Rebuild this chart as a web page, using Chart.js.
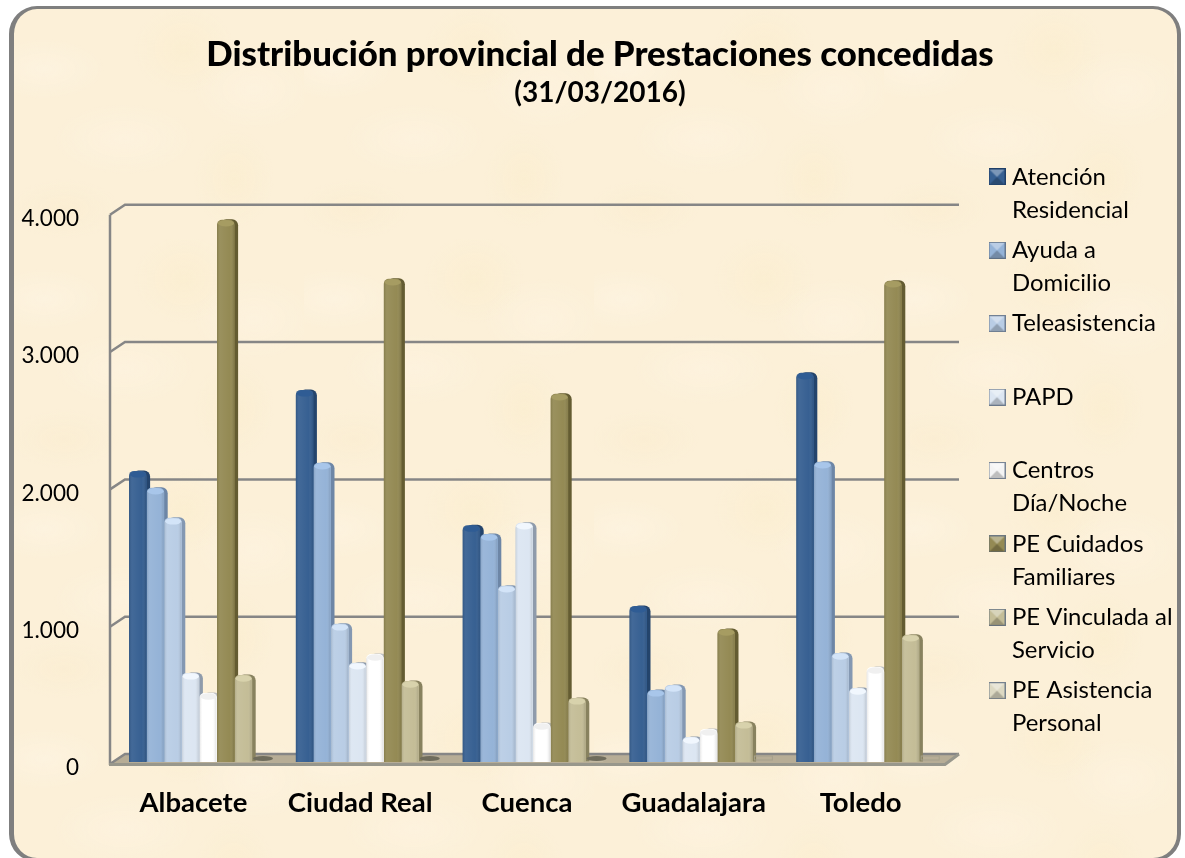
<!DOCTYPE html>
<html lang="es"><head><meta charset="utf-8">
<script src="https://cdn.jsdelivr.net/npm/chart.js@4"></script>
<style>
html,body{margin:0;padding:0;width:1185px;height:858px;overflow:hidden;background:#fff}
#frame{position:absolute;left:9px;top:6px;width:1163px;height:849px;box-sizing:content-box;border-style:solid;border-color:#7f7f7f;border-width:3px 4px 4px 5px;border-radius:28px;overflow:hidden;
background-color:#FCF0D8;
background-image:
radial-gradient(ellipse 60px 30px at 30px 60px,rgba(255,248,236,.35),transparent),
radial-gradient(ellipse 50px 45px at 170px 40px,rgba(250,236,200,.4),transparent),
radial-gradient(ellipse 70px 35px at 110px 130px,rgba(255,246,232,.35),transparent),
radial-gradient(ellipse 40px 50px at 220px 170px,rgba(249,235,198,.35),transparent),
radial-gradient(ellipse 55px 30px at 50px 200px,rgba(248,233,200,.3),transparent),
radial-gradient(ellipse 60px 40px at 240px 80px,rgba(255,246,232,.35),transparent);
background-size:290px 230px}
#c{position:absolute;left:-14px;top:-9px}
</style></head><body>
<div id="frame"><canvas id="c" width="1185" height="858"></canvas></div>
<script>
const categories = ["Albacete","Ciudad Real","Cuenca","Guadalajara","Toledo"];
const seriesNames = ["Atención Residencial","Ayuda a Domicilio","Teleasistencia","PAPD","Centros Día/Noche","PE Cuidados Familiares","PE Vinculada al Servicio","PE Asistencia Personal"];
const legendLines = [["Atención","Residencial"],["Ayuda a","Domicilio"],["Teleasistencia"," "],["PAPD"," "],["Centros","Día/Noche"],["PE Cuidados","Familiares"],["PE Vinculada al","Servicio"],["PE Asistencia","Personal"]];
const atencionResidencial = [2120,2710,1725,1137,2835];
const ayudaDomicilio = [1997,2179,1661,525,2186];
const teleasistencia = [1778,1006,1283,561,794];
const papd = [649,722,1742,182,539];
const centrosDiaNoche = [503,787,284,241,692];
const cuidadosFamiliares = [3949,3519,2682,969,3505];
const vinculadaServicio = [634,590,467,292,926];
const asistenciaPersonal = [1,1,1,0,0];
const seriesValues = [atencionResidencial,ayudaDomicilio,teleasistencia,papd,centrosDiaNoche,cuidadosFamiliares,vinculadaServicio,asistenciaPersonal];
const faceColors = ["#376092","#95B3D7","#B9CDE5","#DCE6F2","#FFFFFF","#948A54","#C4BD97","#DDD9C3"];
const sideColors = ["#24446C","#6D86A6","#8498B2","#8F9BAB","#BFC1C4","#645C32","#88825F","#99957F"];
const capColors  = ["#2F5C94","#A8C6EA","#D3E4F8","#F1F7FE","#F0F0F0","#A69C62","#D8D2AC","#E8E4D2"];
const yTicks = [0,1000,2000,3000,4000];
const FONT = "Lato, Carlito, Calibri, sans-serif";
const DX = 15, DY_BACK = -8, DY_FRONT = 2, WALL = "#868686";

function swatch(i){
  const s=17,c=document.createElement('canvas');c.width=s;c.height=s;const g=c.getContext('2d');
  g.fillStyle=faceColors[i]==="#FFFFFF"?"#F4F4F4":faceColors[i];g.fillRect(0,0,s,s);
  g.fillStyle="rgba(255,255,255,.35)";g.beginPath();g.moveTo(0,0);g.lineTo(s,0);g.lineTo(s/2,s/2);g.fill();
  g.fillStyle="rgba(0,0,0,.22)";g.beginPath();g.moveTo(0,s);g.lineTo(s,s);g.lineTo(s/2,s/2);g.fill();
  g.strokeStyle=i<1?"#1f3f68":"rgba(90,105,125,.8)";g.strokeRect(.5,.5,s-1,s-1);
  return c;
}
const swatches = seriesNames.map((_,i)=>swatch(i));

const bars3d = {
  id:'bars3d',
  afterInit(chart){
    const lg=chart.legend,f=lg.fit;
    lg.fit=function(){f.call(this);this.width=235;};
  },
  afterLayout(chart){
    chart.legend.left=994-7.4; chart.legend.top=165-7.4;
  },
  beforeDatasetsDraw(chart){
    const {ctx,chartArea:a,scales:{y}}=chart;
    const x0=a.left-6, x1=a.left+9, xR=a.right+9, xF=a.right-5;
    ctx.save();
    const yf0=y.getPixelForValue(0)+DY_FRONT, yb0=y.getPixelForValue(0)+DY_BACK;
    ctx.fillStyle="#B7AD96";ctx.beginPath();ctx.moveTo(x0,yf0);ctx.lineTo(x1,yb0);ctx.lineTo(xR,yb0);ctx.lineTo(xF,yf0);ctx.closePath();ctx.fill();
    ctx.strokeStyle=WALL;ctx.lineWidth=2.5;
    yTicks.forEach(v=>{
      const p=y.getPixelForValue(v);
      ctx.beginPath();ctx.moveTo(x0,p+DY_FRONT);ctx.lineTo(x1,p+DY_BACK);ctx.lineTo(xR,p+DY_BACK);ctx.stroke();
    });
    ctx.beginPath();ctx.moveTo(x0,y.getPixelForValue(4000)+DY_FRONT);ctx.lineTo(x0,yf0+1);ctx.stroke();
    ctx.lineWidth=3;ctx.strokeStyle="#98978C";ctx.beginPath();ctx.moveTo(x0-1,yf0+.5);ctx.lineTo(xF,yf0+.5);ctx.lineTo(xR,yb0);ctx.stroke();
    // side strips of all bars go behind every bar face
    seriesValues.forEach((_,i)=>{
      if(i===7) return;
      ctx.fillStyle=sideColors[i];
      chart.getDatasetMeta(i).data.forEach(el=>{
        const {x,y:t,base,width}=el.getProps(['x','y','base','width'],true);
        ctx.beginPath();ctx.roundRect(x-width/2+3.5,t-.5,width,base-t,[6,6,0,0]);ctx.fill();
      });
    });
    ctx.restore();
  },
  afterDatasetDraw(chart,args){
    const i=args.index,{ctx}=chart;
    ctx.save();
    args.meta.data.forEach((el,k)=>{
      const {x,y,base,width}=el.getProps(['x','y','base','width'],true);
      if(i===7){
        if(seriesValues[i][k]>0){ctx.fillStyle="#6F6C5C";ctx.beginPath();ctx.ellipse(x+2,base-3.5,10,2.5,0,0,7);ctx.fill();}
        else{ctx.strokeStyle="#A5A08C";ctx.lineWidth=1;ctx.strokeRect(x-7,base-6,18,4);}
        return;
      }
      const L=x-width/2,R=L+width-.6;
      const g=ctx.createLinearGradient(L,0,R,0);
      g.addColorStop(0,"rgba(0,0,0,.10)");g.addColorStop(.18,"rgba(255,255,255,.06)");g.addColorStop(.75,"rgba(255,255,255,0)");g.addColorStop(1,"rgba(0,0,0,.12)");
      ctx.fillStyle=g;ctx.beginPath();ctx.roundRect(L,y+1,R-L,base-y-1,[5,5,0,0]);ctx.fill();
      ctx.fillStyle=capColors[i];ctx.beginPath();ctx.ellipse((L+R)/2+.5,y+3.5,(R-L)/2-.5,3.2,0,0,7);ctx.fill();
    });
    ctx.restore();
  }
};

new Chart(document.getElementById('c'),{
  type:'bar',
  plugins:[bars3d],
  data:{labels:categories,datasets:seriesValues.map((vals,i)=>({
    label:seriesNames[i],data:vals,backgroundColor:faceColors[i],
    borderWidth:0,inflateAmount:0,borderRadius:{topLeft:5,topRight:5,bottomLeft:0,bottomRight:0},
    categoryPercentage:.844,barPercentage:1
  }))},
  options:{
    responsive:false,animation:false,
    layout:{padding:{left:15,top:0,right:0,bottom:0}},
    scales:{
      x:{grid:{display:false,drawTicks:false},border:{display:false},
        ticks:{color:"#000",font:{family:FONT,size:27.5,weight:'bold'},padding:25,labelOffset:-6,maxRotation:0,autoSkip:false},
        afterFit(s){s.height=96;}},
      y:{min:0,max:4000,grid:{display:false,drawTicks:false},border:{display:false},
        ticks:{color:"#000",font:{family:FONT,size:22.5},padding:37,labelOffset:6,stepSize:1000,
          callback:v=>v===0?"0":(v/1000).toFixed(3)},
        afterFit(s){s.width=101;}}
    },
    plugins:{
      title:{display:true,text:"Distribución provincial de Prestaciones concedidas",color:"#000",
        font:{family:FONT,size:34.8,weight:'900',lineHeight:1.2},padding:{top:34,bottom:0}},
      subtitle:{display:true,text:"(31/03/2016)",color:"#000",
        font:{family:FONT,size:28,weight:'bold',lineHeight:1.2},padding:{top:0,bottom:103.4}},
      legend:{position:'right',align:'start',
        labels:{usePointStyle:true,pointStyleWidth:6,boxHeight:17,padding:7.4,color:"#000",
          font:{family:FONT,size:23.9,lineHeight:33/23.9},
          generateLabels(chart){
            const base=Chart.defaults.plugins.legend.labels.generateLabels(chart);
            return base.map((it,i)=>({...it,text:legendLines[i],pointStyle:swatches[i]}));
          }}},
      tooltip:{enabled:false}
    }
  }
});
</script>
</body></html>
